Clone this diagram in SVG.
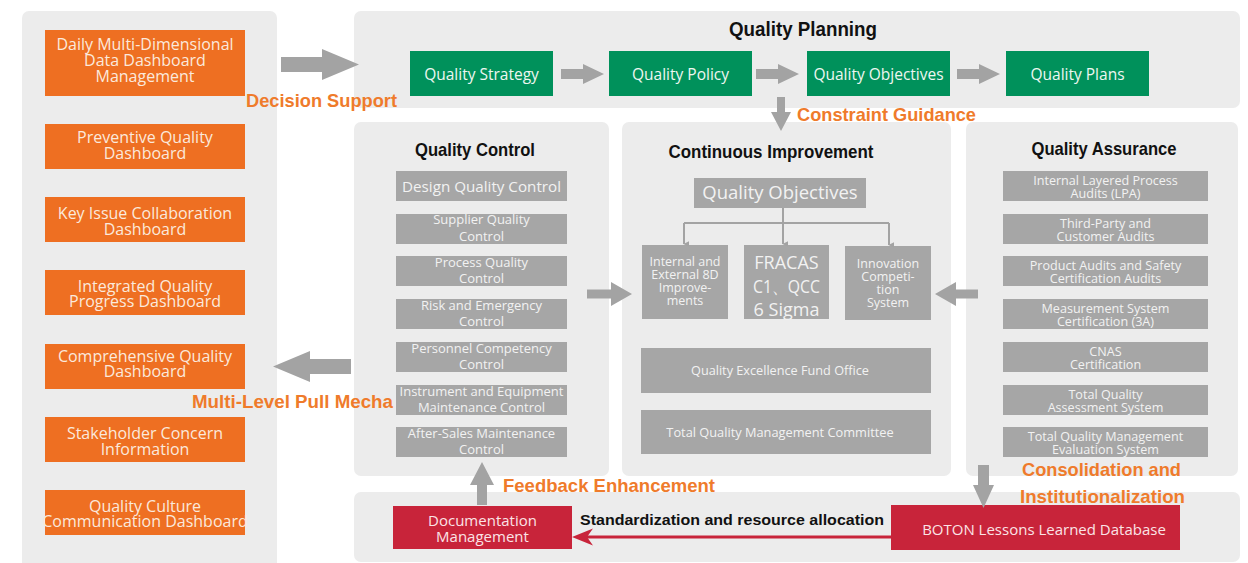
<svg xmlns="http://www.w3.org/2000/svg" width="1248" height="563" viewBox="0 0 1248 563">
<defs>
<style>
.panel{fill:#ececec}
.ob{fill:#ee6f22}
.gb{fill:#00915b}
.ib{fill:#a6a6a6}
.rb{fill:#c8243a}
.arr{fill:#a3a3a3}
.t{font-family:"Open Sans","Noto Sans",sans-serif;text-anchor:middle}
.ot{fill:#fbe9dc;font-size:16px}
.gt{fill:#eef7f1;font-size:15.5px}
.it{fill:#f2f2f2;font-size:13px}
.qt{fill:#f2f2f2;font-size:12.6px}
.ct{fill:#f2f2f2;font-size:12.5px}
.ttl{font-family:"Liberation Sans",Arial,sans-serif;font-weight:bold;fill:#111;text-anchor:middle}
.lab{font-family:"Liberation Sans",Arial,sans-serif;font-weight:bold;fill:#ef7b2b;font-size:19px}
</style>
<marker id="sm" viewBox="0 0 10 10" refX="5" refY="9" markerWidth="6" markerHeight="6" markerUnits="userSpaceOnUse" orient="auto-start-reverse">
<path d="M0,0 L10,0 L5,10 Z" fill="#a3a3a3"/>
</marker>
</defs>

<g id="panels">
<rect class="panel" x="22" y="11" width="255" height="570" rx="7"/>
<rect class="panel" x="354" y="11" width="886" height="97" rx="7"/>
<rect class="panel" x="354" y="122" width="255" height="354" rx="7"/>
<rect class="panel" x="622" y="122" width="329" height="354" rx="7"/>
<rect class="panel" x="966" y="122" width="272" height="354" rx="7"/>
<rect class="panel" x="354" y="492" width="886" height="70" rx="7"/>
</g>

<g id="titles">
<text class="ttl" x="803" y="36" font-size="21" textLength="148" lengthAdjust="spacingAndGlyphs">Quality Planning</text>
<text class="ttl" x="475" y="156" font-size="19" textLength="120" lengthAdjust="spacingAndGlyphs">Quality Control</text>
<text class="ttl" x="771" y="158" font-size="19" textLength="205" lengthAdjust="spacingAndGlyphs">Continuous Improvement</text>
<text class="ttl" x="1104" y="155" font-size="19" textLength="145" lengthAdjust="spacingAndGlyphs">Quality Assurance</text>
</g>

<g id="dashboards">
<g id="d1"><rect class="ob" x="45" y="30" width="200" height="66"/>
<text class="t ot" x="145" y="50">Daily Multi-Dimensional</text><text class="t ot" x="145" y="66">Data Dashboard</text><text class="t ot" x="145" y="82">Management</text></g>
<g id="d2"><rect class="ob" x="45" y="124" width="200" height="45"/>
<text class="t ot" x="145" y="143">Preventive Quality</text><text class="t ot" x="145" y="159">Dashboard</text></g>
<g id="d3"><rect class="ob" x="45" y="197" width="200" height="45"/>
<text class="t ot" x="145" y="219">Key Issue Collaboration</text><text class="t ot" x="145" y="235">Dashboard</text></g>
<g id="d4"><rect class="ob" x="45" y="270" width="200" height="45"/>
<text class="t ot" x="145" y="292">Integrated Quality</text><text class="t ot" x="145" y="307">Progress Dashboard</text></g>
<g id="d5"><rect class="ob" x="45" y="344" width="200" height="45"/>
<text class="t ot" x="145" y="362">Comprehensive Quality</text><text class="t ot" x="145" y="377">Dashboard</text></g>
<g id="d6"><rect class="ob" x="45" y="417" width="200" height="45"/>
<text class="t ot" x="145" y="439">Stakeholder Concern</text><text class="t ot" x="145" y="455">Information</text></g>
<g id="d7"><rect class="ob" x="45" y="490" width="200" height="45"/>
<text class="t ot" x="145" y="512">Quality Culture</text><text class="t ot" x="145" y="527">Communication Dashboard</text></g>
</g>

<g id="planning">
<g id="p1"><rect class="gb" x="410" y="51" width="143" height="45"/><text class="t gt" x="481.5" y="80">Quality Strategy</text></g>
<g id="p2"><rect class="gb" x="609" y="51" width="143" height="45"/><text class="t gt" x="680.5" y="80">Quality Policy</text></g>
<g id="p3"><rect class="gb" x="807" y="51" width="143" height="45"/><text class="t gt" x="878.5" y="80">Quality Objectives</text></g>
<g id="p4"><rect class="gb" x="1006" y="51" width="143" height="45"/><text class="t gt" x="1077.5" y="80">Quality Plans</text></g>
</g>

<g id="control">
<g id="c1"><rect class="ib" x="396" y="171" width="171" height="30"/><text class="t" fill="#f2f2f2" font-size="15.2" x="481.5" y="192">Design Quality Control</text></g>
<g id="c2"><rect class="ib" x="396" y="214" width="171" height="30"/><text class="t it" x="481.5" y="224">Supplier Quality</text><text class="t it" x="481.5" y="241">Control</text></g>
<g id="c3"><rect class="ib" x="396" y="256" width="171" height="30"/><text class="t it" x="481.5" y="267">Process Quality</text><text class="t it" x="481.5" y="283">Control</text></g>
<g id="c4"><rect class="ib" x="396" y="299" width="171" height="30"/><text class="t it" x="481.5" y="310">Risk and Emergency</text><text class="t it" x="481.5" y="326">Control</text></g>
<g id="c5"><rect class="ib" x="396" y="342" width="171" height="30"/><text class="t it" x="481.5" y="353">Personnel Competency</text><text class="t it" x="481.5" y="369">Control</text></g>
<g id="c6"><rect class="ib" x="396" y="385" width="171" height="30"/><text class="t it" x="481.5" y="396">Instrument and Equipment</text><text class="t it" x="481.5" y="412">Maintenance Control</text></g>
<g id="c7"><rect class="ib" x="396" y="427" width="171" height="30"/><text class="t it" x="481.5" y="438">After-Sales Maintenance</text><text class="t it" x="481.5" y="454">Control</text></g>
</g>

<g id="improvement">
<g id="i0"><rect class="ib" x="694" y="178" width="172" height="30"/><text class="t" fill="#f2f2f2" font-size="18.5" x="780" y="199">Quality Objectives</text></g>
<g id="i1"><rect class="ib" x="642" y="245" width="86" height="74"/>
<text class="t ct" x="685" y="266">Internal and</text><text class="t ct" x="685" y="279">External 8D</text><text class="t ct" x="685" y="292">Improve-</text><text class="t ct" x="685" y="305">ments</text></g>
<g id="i2"><rect class="ib" x="744" y="245" width="85" height="74"/>
<text class="t" fill="#f2f2f2" font-size="18" x="786.5" y="269">FRACAS</text><text class="t" fill="#f2f2f2" font-size="18" x="786.5" y="293" textLength="67" lengthAdjust="spacingAndGlyphs">C1、QCC</text><text class="t" fill="#f2f2f2" font-size="18" x="786.5" y="316">6 Sigma</text></g>
<g id="i3"><rect class="ib" x="845" y="246" width="86" height="74"/>
<text class="t ct" x="888" y="268">Innovation</text><text class="t ct" x="888" y="281">Competi-</text><text class="t ct" x="888" y="294">tion</text><text class="t ct" x="888" y="307">System</text></g>
<g id="i4"><rect class="ib" x="641" y="348" width="290" height="45"/><text class="t" fill="#f2f2f2" font-size="12.7" x="780" y="375">Quality Excellence Fund Office</text></g>
<g id="i5"><rect class="ib" x="641" y="410" width="290" height="44"/><text class="t" fill="#f2f2f2" font-size="12.8" x="780" y="437">Total Quality Management Committee</text></g>
</g>

<g id="assurance">
<g id="a1"><rect class="ib" x="1003" y="171" width="205" height="30"/><text class="t qt" x="1105.5" y="185">Internal Layered Process</text><text class="t qt" x="1105.5" y="198">Audits (LPA)</text></g>
<g id="a2"><rect class="ib" x="1003" y="214" width="205" height="30"/><text class="t qt" x="1105.5" y="228">Third-Party and</text><text class="t qt" x="1105.5" y="241">Customer Audits</text></g>
<g id="a3"><rect class="ib" x="1003" y="256" width="205" height="30"/><text class="t qt" x="1105.5" y="270">Product Audits and Safety</text><text class="t qt" x="1105.5" y="283">Certification Audits</text></g>
<g id="a4"><rect class="ib" x="1003" y="299" width="205" height="30"/><text class="t qt" x="1105.5" y="313">Measurement System</text><text class="t qt" x="1105.5" y="326">Certification (3A)</text></g>
<g id="a5"><rect class="ib" x="1003" y="342" width="205" height="30"/><text class="t qt" x="1105.5" y="356">CNAS</text><text class="t qt" x="1105.5" y="369">Certification</text></g>
<g id="a6"><rect class="ib" x="1003" y="385" width="205" height="30"/><text class="t qt" x="1105.5" y="399">Total Quality</text><text class="t qt" x="1105.5" y="412">Assessment System</text></g>
<g id="a7"><rect class="ib" x="1003" y="427" width="205" height="30"/><text class="t qt" x="1105.5" y="441">Total Quality Management</text><text class="t qt" x="1105.5" y="454">Evaluation System</text></g>
</g>

<g id="bottom">
<g id="b1"><rect class="rb" x="393" y="506" width="179" height="43"/><text class="t" fill="#fbe3e6" font-size="15" x="482.5" y="526">Documentation</text><text class="t" fill="#fbe3e6" font-size="15" x="482.5" y="542">Management</text></g>
<g id="b2"><rect class="rb" x="891" y="505" width="289" height="45"/><text class="t" fill="#fbe3e6" font-size="15" x="1044" y="535">BOTON Lessons Learned Database</text></g>
</g>

<g id="connectors">
<polygon class="arr" points="281,57 322,57 322,49 359,64.5 322,80 322,72 281,72"/>
<polygon class="arr" points="561,69 583,69 583,64 604,74 583,84 583,79 561,79"/>
<polygon class="arr" points="756,69 778,69 778,64 799,74 778,84 778,79 756,79"/>
<polygon class="arr" points="957,69 979,69 979,64 1000,74 979,84 979,79 957,79"/>
<polygon class="arr" points="777,97 785,97 785,112 791,112 781,131 771,112 777,112"/>
<polygon class="arr" points="587,289.5 611,289.5 611,282 632,294 611,306 611,298.5 587,298.5"/>
<polygon class="arr" points="978,289.5 956,289.5 956,282 935,294 956,306 956,298.5 978,298.5"/>
<polygon class="arr" points="351,359 310,359 310,351 273,366.5 310,382 310,374 351,374"/>
<polygon class="arr" points="477,505 477,485 470,485 482,462 494,485 487,485 487,505"/>
<polygon class="arr" points="978,465 989,465 989,485 994,485 983.5,508 973,485 978,485"/>
<g fill="none" stroke="#a3a3a3" stroke-width="2">
<path d="M783 208 V223 M684 223 H889"/>
<path d="M684 223 V244" marker-end="url(#sm)"/>
<path d="M783 223 V244" marker-end="url(#sm)"/>
<path d="M889 223 V245" marker-end="url(#sm)"/>
</g>
<line x1="891" y1="537" x2="586" y2="537" stroke="#c8243a" stroke-width="3"/>
<polygon points="572,537 593,528.5 587,537 593,545.5" fill="#c8243a"/>
</g>

<g id="labels">
<text class="lab" x="246" y="107" textLength="151" lengthAdjust="spacingAndGlyphs">Decision Support</text>
<text class="lab" x="797" y="121" textLength="179" lengthAdjust="spacingAndGlyphs">Constraint Guidance</text>
<text class="lab" x="192" y="408" textLength="201" lengthAdjust="spacingAndGlyphs">Multi-Level Pull Mecha</text>
<text class="lab" x="503" y="492" textLength="212" lengthAdjust="spacingAndGlyphs">Feedback Enhancement</text>
<text class="lab" x="1022" y="476" textLength="159" lengthAdjust="spacingAndGlyphs">Consolidation and</text>
<text class="lab" x="1020" y="503" textLength="165" lengthAdjust="spacingAndGlyphs">Institutionalization</text>
<text x="580" y="525" font-family="'Liberation Sans',Arial,sans-serif" font-weight="bold" font-size="15" fill="#111" textLength="304" lengthAdjust="spacingAndGlyphs">Standardization and resource allocation</text>
</g>
</svg>
